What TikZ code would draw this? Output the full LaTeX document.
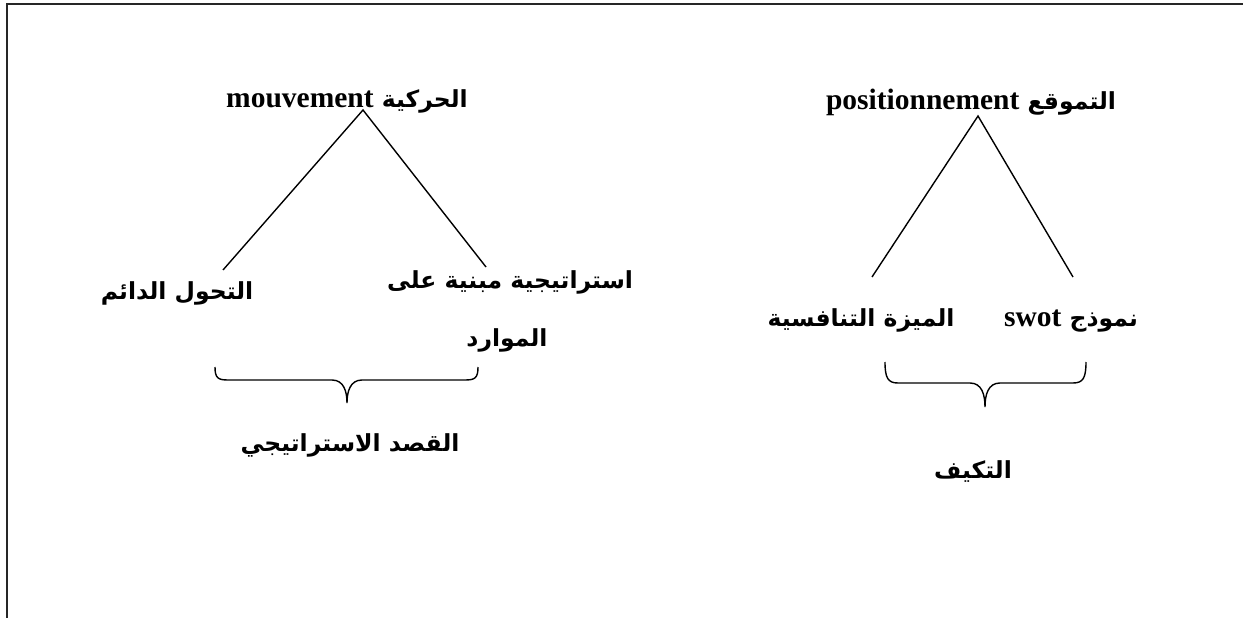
\documentclass[tikz,border=0pt]{standalone}
\usepackage{fontspec}
\setmainfont{Liberation Serif}
\newfontfamily\arabicfont[Script=Arabic]{DejaVu Sans}
\TeXXeTstate=1
\newcommand{\latword}[1]{{\rmfamily\bfseries\fontsize{29.5}{32}\selectfont\beginL #1\endL}}
\begin{document}
\begin{tikzpicture}[x=1pt,y=-1pt,
  lbl/.style={inner sep=0pt,anchor=base,font=\arabicfont\bfseries\fontsize{23.5}{28}\selectfont},
  branch/.style={line width=1.4pt},
  bracepath/.style={line width=1.4pt},
  frameline/.style={line width=2pt,draw=black!85}]
\useasboundingbox (0,0) rectangle (1243,618);
% page frame (top and left edges)
\draw[frameline] (6.5,618) -- (6.5,4.5) -- (1243,4.5);

% ---- left tree: mouvement ----
\node[lbl] (mov) at (347,107) {\beginR الحركية \latword{mouvement}\endR};
\coordinate (movtop) at (363,110);
\coordinate (movL) at (223,270);
\coordinate (movR) at (486,267);
\draw[branch] (movL) -- (movtop) -- (movR);
\node[lbl] (perm) at (177,299) {\beginR التحول الدائم\endR};
\node[lbl] (res) at (510,288) {\beginR استراتيجية مبنية على\endR};
\node[lbl] (resb) at (507,346) {\beginR الموارد\endR};
\coordinate (bL1) at (215,367);
\coordinate (bL2) at (478,367);
\coordinate (bLtip) at (347,403);
\draw[bracepath] (bL1) .. controls (215,378) and (218,380) .. (228,380)
  -- (332,380) .. controls (344,380) and (347,392) .. (bLtip)
  .. controls (347,392) and (350,380) .. (362,380)
  -- (465,380) .. controls (475,380) and (478,378) .. (bL2);
\node[lbl] (intent) at (350,451) {\beginR القصد الاستراتيجي\endR};

% ---- right tree: positionnement ----
\node[lbl] (pos) at (971,110) {\beginR التموقع \latword{positionnement}\endR};
\coordinate (postop) at (978,116);
\coordinate (posL) at (872,277);
\coordinate (posR) at (1073,277);
\draw[branch] (posL) -- (postop) -- (posR);
\node[lbl] (adv) at (861,326) {\beginR الميزة التنافسية\endR};
\node[lbl] (swot) at (1071,326) {\beginR نموذج \latword{swot}\endR};
\coordinate (bR1) at (885,362);
\coordinate (bR2) at (1086,362);
\coordinate (bRtip) at (985,407);
\draw[bracepath] (bR1) .. controls (885,378) and (888,383) .. (898,383)
  -- (970,383) .. controls (982,383) and (985,395) .. (bRtip)
  .. controls (985,395) and (988,383) .. (1000,383)
  -- (1073,383) .. controls (1083,383) and (1086,378) .. (bR2);
\node[lbl] (adapt) at (973,478) {\beginR التكيف\endR};
\end{tikzpicture}
\end{document}
